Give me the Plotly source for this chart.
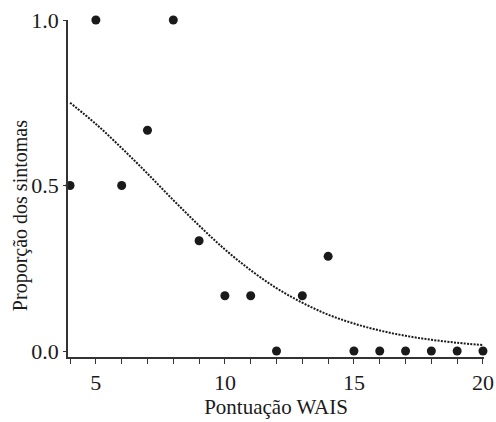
import plotly.graph_objects as go

# Observed data points (WAIS score vs proportion of symptoms)
wais_scores = [4, 5, 6, 7, 8, 9, 10, 11, 12, 13, 14, 15, 16, 17, 18, 19, 20]
symptom_props = [0.5, 1.0, 0.5, 0.667, 1.0, 0.333, 0.167, 0.167, 0.0, 0.167, 0.286,
                 0.0, 0.0, 0.0, 0.0, 0.0, 0.0]

# Fitted curve values
curve_x = [4, 5, 6, 7, 8, 9, 10, 11, 12, 13, 14, 15, 16, 17, 18, 19, 20]
curve_y = [0.75, 0.686, 0.613, 0.536, 0.456, 0.379, 0.307, 0.244, 0.190, 0.146,
           0.110, 0.083, 0.062, 0.046, 0.034, 0.025, 0.018]

x_tick_vals = list(range(4, 21))
x_tick_text = ["" if v not in (5, 10, 15, 20) else str(v) for v in x_tick_vals]
y_tick_vals = [0.0, 0.5, 1.0]
y_tick_text = ["0.0", "0.5", "1.0"]

ink = "#1a1a1a"
font_family = "Liberation Serif, Times New Roman, serif"

fig = go.Figure()
fig.add_trace(go.Scatter(
    x=curve_x, y=curve_y, mode="lines",
    line=dict(color=ink, width=2, dash="2px,1.3px", shape="spline"),
    hoverinfo="skip", showlegend=False,
))
fig.add_trace(go.Scatter(
    x=wais_scores, y=symptom_props, mode="markers",
    marker=dict(color=ink, size=9, line=dict(width=0)),
    cliponaxis=False, showlegend=False,
))

fig.update_layout(
    width=496, height=422,
    margin=dict(l=68, r=12, t=20, b=65),
    paper_bgcolor="white", plot_bgcolor="white",
    font=dict(family=font_family, color=ink),
    xaxis=dict(
        range=[3.92, 20.04], automargin=False,
        tickvals=x_tick_vals, ticktext=x_tick_text,
        ticks="outside", ticklen=5, tickwidth=1.2, tickcolor="#333333",
        showline=True, linecolor="#333333", linewidth=1.5,
        showgrid=False, zeroline=False,
        tickfont=dict(size=22, family=font_family, color=ink),
        title=dict(text="Pontuação WAIS", font=dict(size=21, family=font_family, color=ink),
                   standoff=2),
    ),
    yaxis=dict(
        range=[-0.018, 1.0], automargin=False,
        tickvals=y_tick_vals, ticktext=y_tick_text,
        ticks="outside", ticklen=3, tickwidth=1.2, tickcolor="#333333",
        showline=True, linecolor="#333333", linewidth=1.5,
        showgrid=False, zeroline=False,
        tickfont=dict(size=22, family=font_family, color=ink),
    ),
    annotations=[dict(
        text="Proporção dos sintomas", textangle=-90,
        xref="paper", yref="paper", x=0, y=0.418,
        xanchor="center", yanchor="middle", xshift=-48,
        showarrow=False,
        font=dict(size=20, family=font_family, color=ink),
    )],
)

fig.write_html("out.html")
